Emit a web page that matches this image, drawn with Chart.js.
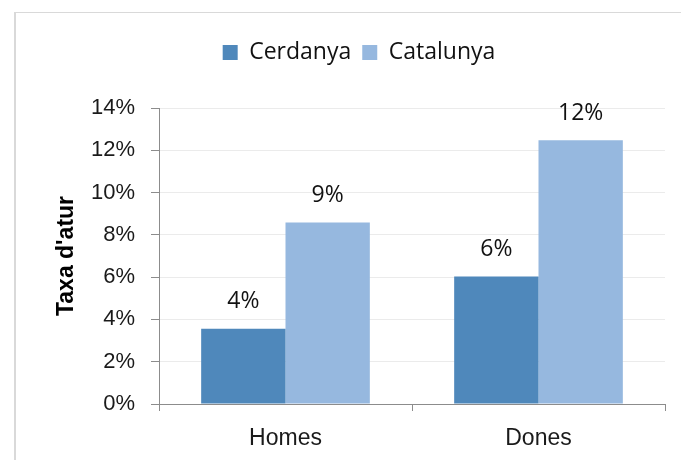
<!DOCTYPE html>
<html>
<head>
<meta charset="utf-8">
<script src="https://cdn.jsdelivr.net/npm/chart.js@4"></script>
<style>
  html, body { margin: 0; padding: 0; background: #fff; }
  #wrap { position: relative; width: 681px; height: 460px; overflow: hidden; }
  #frame {
    position: absolute; left: 14px; top: 12px; right: -10px; bottom: -10px;
    border-left: 2px solid #d9d9d9; border-top: 1px solid #d9d9d9;
    pointer-events: none;
  }
  canvas { position: absolute; left: 0; top: 0; }
</style>
</head>
<body>
<div id="wrap">
  <canvas id="chart" width="681" height="460"></canvas>
  <div id="frame"></div>
</div>
<script>
const categories = ['Homes', 'Dones'];
const cerdanya = [3.56, 6.03];
const catalunya = [8.58, 12.48];
const yTicks = [0, 2, 4, 6, 8, 10, 12, 14];

// label above each bar, rounded like the original
const barLabels = {
    id: 'barLabels',
    afterDatasetsDraw(chart) {
        const ctx = chart.ctx;
        ctx.save();
        ctx.font = '23px "Open Sans"';
        ctx.fillStyle = '#111';
        ctx.textAlign = 'center';
        ctx.textBaseline = 'middle';
        chart.data.datasets.forEach((ds, i) => {
            chart.getDatasetMeta(i).data.forEach((bar, j) => {
                ctx.fillText(Math.round(ds.data[j]) + '%', bar.x, bar.y - 27);
            });
        });
        ctx.restore();
    }
};

// extra room under the legend
const legendGap = {
    id: 'legendGap',
    beforeInit(chart) {
        const fit = chart.legend.fit;
        chart.legend.fit = function () {
            fit.bind(chart.legend)();
            this.height += 34;
        };
    }
};

new Chart(document.getElementById('chart'), {
    type: 'bar',
    data: {
        labels: categories,
        datasets: [
            { label: 'Cerdanya', data: cerdanya, backgroundColor: '#4f88bb' },
            { label: 'Catalunya', data: catalunya, backgroundColor: '#96b8df' }
        ]
    },
    options: {
        responsive: false,
        animation: false,
        layout: { padding: { top: 30, right: 16, left: 53, bottom: 0 } },
        datasets: { bar: { categoryPercentage: 2 / 3, barPercentage: 1 } },
        plugins: {
            legend: {
                position: 'top',
                labels: {
                    font: { family: '"Open Sans"', size: 23 },
                    color: '#111',
                    boxWidth: 15,
                    boxHeight: 15,
                    padding: 11
                }
            },
            tooltip: { enabled: false }
        },
        scales: {
            x: {
                grid: { offset: true, drawOnChartArea: false, drawTicks: true, tickLength: 7, tickColor: '#8c8c8c' },
                border: { color: '#8c8c8c', width: 1 },
                ticks: { font: { family: '"Liberation Sans"', size: 23 }, color: '#1a1a1a', padding: 14 },
                afterFit(scale) { scale.height = 56; }
            },
            y: {
                min: 0,
                max: 14,
                afterBuildTicks(scale) { scale.ticks = yTicks.map(v => ({ value: v })); },
                grid: { color: '#ebebeb', tickLength: 8, tickColor: '#8c8c8c' },
                border: { color: '#8c8c8c', width: 1 },
                ticks: {
                    font: { family: '"Liberation Sans"', size: 22 },
                    color: '#1a1a1a',
                    padding: 16,
                    callback: v => v + '%'
                },
                title: {
                    display: true,
                    text: "Taxa d'atur",
                    font: { family: '"Liberation Sans"', size: 23, weight: 'bold' },
                    color: '#000',
                    padding: { top: 0, bottom: 0 }
                },
                afterFit(scale) { scale.width = 106; }
            }
        }
    },
    plugins: [barLabels, legendGap]
});
</script>
</body>
</html>
